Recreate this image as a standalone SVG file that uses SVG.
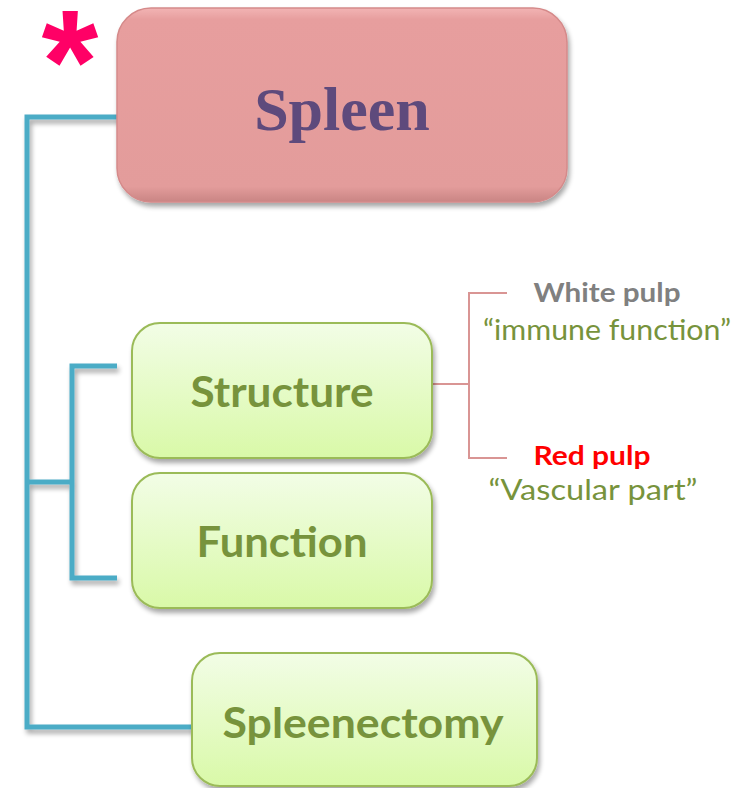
<svg xmlns="http://www.w3.org/2000/svg" width="734" height="788" viewBox="0 0 734 788">
  <defs>
    <linearGradient id="gGreen" x1="0" y1="0" x2="0" y2="1">
      <stop offset="0" stop-color="#f2fde6"/>
      <stop offset="1" stop-color="#d9f9a8"/>
    </linearGradient>
    <linearGradient id="gPink" x1="0" y1="0" x2="0" y2="1">
      <stop offset="0" stop-color="#f2b4b4"/>
      <stop offset="0.06" stop-color="#e79e9e"/>
      <stop offset="0.92" stop-color="#e39c9b"/>
      <stop offset="1" stop-color="#c98584"/>
    </linearGradient>
    <filter id="shadow" filterUnits="userSpaceOnUse" x="0" y="0" width="734" height="788">
      <feGaussianBlur in="SourceAlpha" stdDeviation="2.5"/>
      <feOffset dx="2" dy="4" result="b"/>
      <feComponentTransfer><feFuncA type="linear" slope="0.35"/></feComponentTransfer>
      <feMerge><feMergeNode/><feMergeNode in="SourceGraphic"/></feMerge>
    </filter>
  </defs>
  <style>
    .box { fill: url(#gGreen); stroke: #9bbb59; stroke-width: 2; filter: url(#shadow); }
    .lbl { font-family: Lato, "Liberation Sans", sans-serif; font-weight: bold; fill: #77933c; text-anchor: middle; }
    .tree { fill: none; stroke: #4bacc6; stroke-width: 5; filter: url(#shadow); }
    .pink { fill: none; stroke: #d99594; stroke-width: 2; }
    .sub { font-family: Lato, "Liberation Sans", sans-serif; text-anchor: middle; }
  </style>

  <!-- connectors -->
  <g id="connectors">
    <path class="tree" d="M120 117 H27 V727 H195 M27 482 H72 M117 366 H72 V578 H117"/>
    <path class="pink" d="M432 384 H469 M507 293 H469 V458 H507"/>
  </g>

  <!-- asterisk marker -->
  <text x="70" y="112" font-family="Liberation Sans, sans-serif" font-weight="bold" font-size="146" fill="#ff0066" text-anchor="middle">*</text>

  <g id="spleen">
    <rect x="117" y="8" width="450" height="194" rx="34" fill="url(#gPink)" stroke="#d58a8a" stroke-width="1.5" filter="url(#shadow)"/>
    <text x="342" y="130" font-family="Liberation Serif, serif" font-weight="bold" font-size="62" fill="#5e4a7c" text-anchor="middle">Spleen</text>
  </g>

  <g id="structure">
    <rect class="box" x="132" y="323" width="300" height="135" rx="28"/>
    <text class="lbl" x="282" y="407" font-size="42" textLength="183" lengthAdjust="spacingAndGlyphs">Structure</text>
  </g>

  <g id="function">
    <rect class="box" x="132" y="473" width="300" height="135" rx="28"/>
    <text class="lbl" x="282" y="557" font-size="42" textLength="171" lengthAdjust="spacingAndGlyphs">Function</text>
  </g>

  <g id="spleenectomy">
    <rect class="box" x="192" y="653" width="345" height="133" rx="28"/>
    <text class="lbl" x="363" y="738" font-size="42" textLength="281" lengthAdjust="spacingAndGlyphs">Spleenectomy</text>
  </g>

  <g id="white-pulp">
    <text class="sub" x="607" y="302" font-size="26" font-weight="bold" fill="#808080" textLength="147" lengthAdjust="spacingAndGlyphs">White pulp</text>
    <text class="sub" x="607" y="340" font-size="28" fill="#77933c" textLength="248" lengthAdjust="spacingAndGlyphs">“immune function”</text>
  </g>

  <g id="red-pulp">
    <text class="sub" x="592" y="465" font-size="26" font-weight="bold" fill="#ff0000" textLength="117" lengthAdjust="spacingAndGlyphs">Red pulp</text>
    <text class="sub" x="593" y="500" font-size="28" fill="#77933c" textLength="209" lengthAdjust="spacingAndGlyphs">“Vascular part”</text>
  </g>
</svg>
